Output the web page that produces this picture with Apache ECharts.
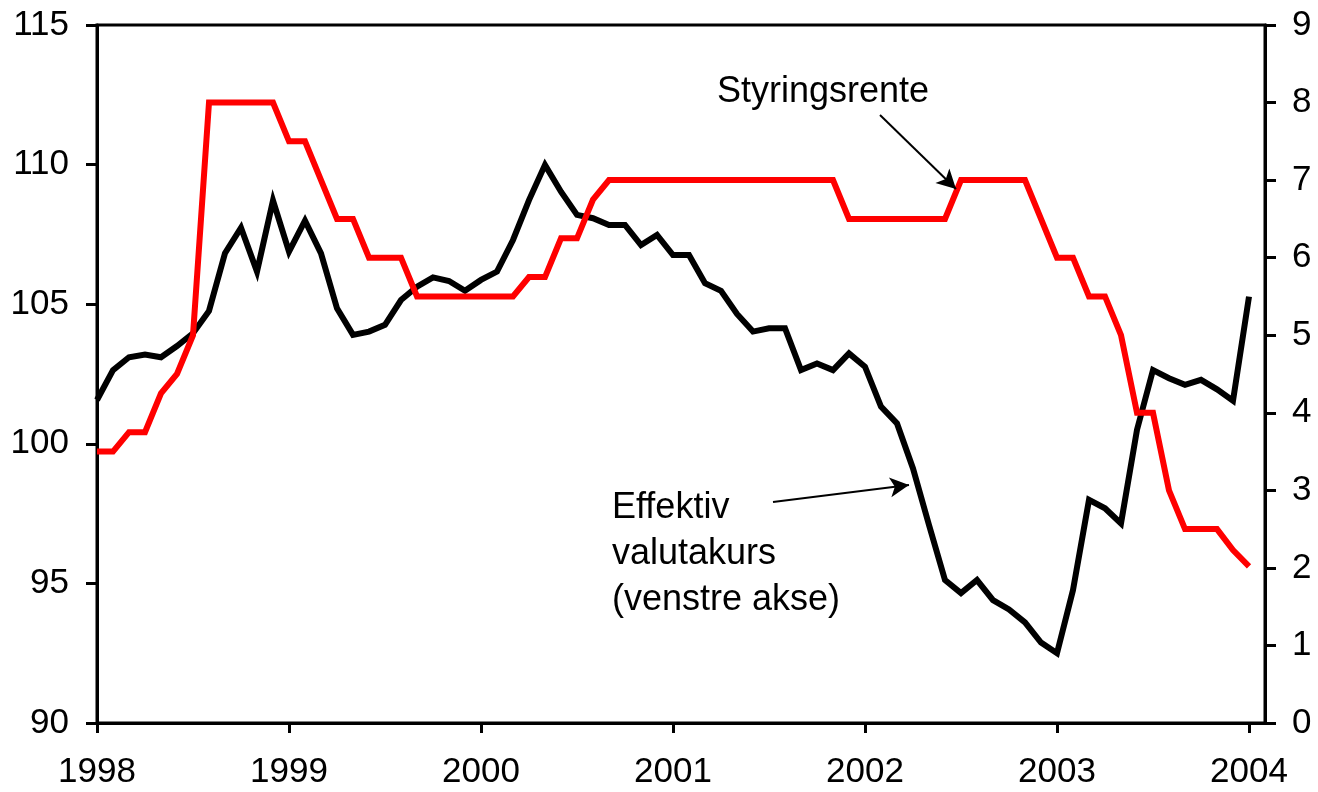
<!DOCTYPE html>
<html>
<head>
<meta charset="utf-8">
<script src="https://cdn.jsdelivr.net/npm/echarts@6/dist/echarts.min.js"></script>
<style>
  html, body { margin: 0; padding: 0; background: #fff; }
  #chart { width: 1318px; height: 792px; }
</style>
</head>
<body>
<div id="chart"></div>
<script>
// maaneder jan 1998 - feb 2004
var years = ['1998', '1999', '2000', '2001', '2002', '2003', '2004'];
var months = [];
for (var y = 1998; y <= 2004; y++) {
  for (var m = 1; m <= 12; m++) {
    if (y === 2004 && m > 2) break;
    months.push(y + '-' + (m < 10 ? '0' + m : m));
  }
}

// effektiv valutakurs (venstre akse)
var kurs = [
  101.57, 102.64, 103.1, 103.2, 103.1, 103.5, 103.96, 104.76, 106.83, 107.74, 106.17, 108.71,
  106.88, 107.99, 106.82, 104.85, 103.9, 104.02, 104.26, 105.15, 105.63, 105.96, 105.83, 105.48,
  105.87, 106.17, 107.3, 108.73, 109.99, 109.03, 108.2, 108.08, 107.84, 107.84, 107.12, 107.48,
  106.76, 106.76, 105.75, 105.48, 104.65, 104.02, 104.14, 104.14, 102.64, 102.88, 102.64, 103.24,
  102.76, 101.33, 100.73, 99.12, 97.09, 95.12, 94.65, 95.12, 94.4, 94.07, 93.6, 92.88,
  92.5, 94.76, 97.99, 97.69, 97.15, 100.5, 102.64, 102.35, 102.11, 102.29, 101.95, 101.54,
  105.27
];

// styringsrente (hoyre akse)
var rente = [
  3.5, 3.5, 3.75, 3.75, 4.25, 4.5, 5.0, 8, 8, 8, 8, 8,
  7.5, 7.5, 7.0, 6.5, 6.5, 6.0, 6.0, 6.0, 5.5, 5.5, 5.5, 5.5,
  5.5, 5.5, 5.5, 5.75, 5.75, 6.25, 6.25, 6.75, 7, 7, 7, 7,
  7, 7, 7, 7, 7, 7, 7, 7, 7, 7, 7, 6.5,
  6.5, 6.5, 6.5, 6.5, 6.5, 6.5, 7, 7, 7, 7, 7, 6.5,
  6, 6, 5.5, 5.5, 5, 4, 4, 3, 2.5, 2.5, 2.5, 2.23,
  2.02
];

var font = 'Liberation Sans, Arial, sans-serif';
var chart = echarts.init(document.getElementById('chart'));

var option = {
  animation: false,
  backgroundColor: '#fff',
  grid: {
    left: 97, right: 53, top: 25, bottom: 69,
    show: true, borderColor: '#000', borderWidth: 3
  },
  xAxis: {
    type: 'category',
    data: months,
    boundaryGap: false,
    axisLine: { lineStyle: { color: '#000', width: 3 } },
    axisTick: { show: true, interval: 11, length: 10, lineStyle: { color: '#000', width: 3 } },
    axisLabel: {
      interval: 11, margin: 32, color: '#000', fontSize: 35, fontFamily: font,
      formatter: function (v) { return v.slice(0, 4); }
    },
    splitLine: { show: false }
  },
  yAxis: [
    {
      type: 'value', min: 90, max: 115, interval: 5, position: 'left',
      axisLine: { show: true, lineStyle: { color: '#000', width: 3 } },
      axisTick: { show: true, length: 11, lineStyle: { color: '#000', width: 3 } },
      axisLabel: { margin: 28, color: '#000', fontSize: 35, fontFamily: font },
      splitLine: { show: false }
    },
    {
      type: 'value', min: 0, max: 9, interval: 1, position: 'right',
      axisLine: { show: true, lineStyle: { color: '#000', width: 3 } },
      axisTick: { show: true, length: 11, lineStyle: { color: '#000', width: 3 } },
      axisLabel: { margin: 27, color: '#000', fontSize: 35, fontFamily: font },
      splitLine: { show: false }
    }
  ],
  series: [
    {
      name: 'Effektiv valutakurs',
      type: 'line',
      yAxisIndex: 0,
      data: kurs,
      showSymbol: false,
      lineStyle: { color: '#000', width: 6, join: 'miter' },
      itemStyle: { color: '#000' },
      markLine: {
        silent: true,
        symbol: ['none', 'arrow'],
        symbolSize: [15, 19],
        label: { show: false },
        lineStyle: { color: '#000', width: 2, type: 'solid' },
        data: [[{ x: 773, y: 502 }, { x: 909, y: 485 }]]
      }
    },
    {
      name: 'Styringsrente',
      type: 'line',
      yAxisIndex: 1,
      data: rente,
      showSymbol: false,
      lineStyle: { color: '#ff0000', width: 6, join: 'miter' },
      itemStyle: { color: '#ff0000' },
      markLine: {
        silent: true,
        symbol: ['none', 'arrow'],
        symbolSize: [15, 19],
        label: { show: false },
        lineStyle: { color: '#000', width: 2, type: 'solid' },
        data: [[{ x: 880, y: 115 }, { x: 956, y: 189 }]]
      }
    }
  ],
  graphic: [
    {
      type: 'text', left: 717, top: 74,
      style: { text: 'Styringsrente', fill: '#000', font: '36px ' + font }
    },
    {
      type: 'text', left: 612, top: 485,
      style: { text: 'Effektiv\nvalutakurs\n(venstre akse)', fill: '#000', font: '36px ' + font, lineHeight: 46 }
    }
  ]
};

chart.setOption(option);
</script>
</body>
</html>
